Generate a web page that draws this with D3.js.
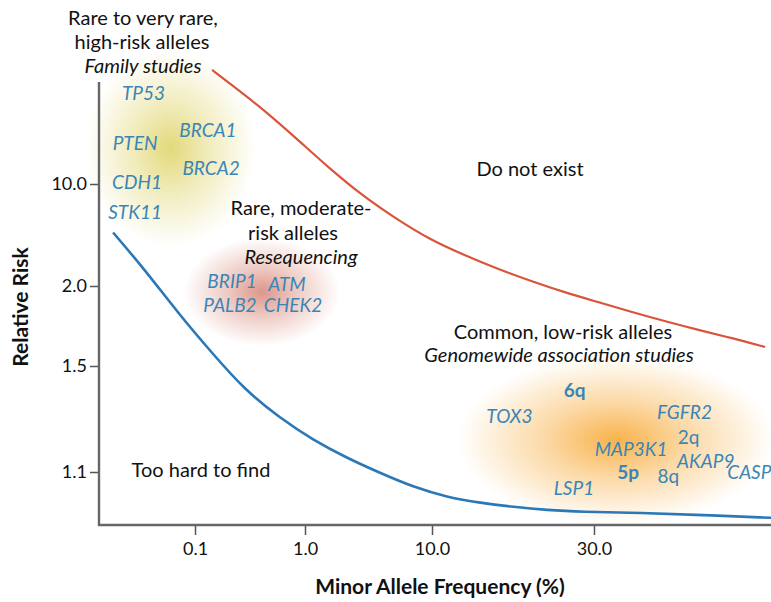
<!DOCTYPE html>
<html>
<head>
<meta charset="utf-8">
<script src="https://cdn.jsdelivr.net/npm/d3@7"></script>
<style>
  html, body { margin: 0; padding: 0; background: #fff; }
  svg { display: block; font-family: Lato, "Open Sans", sans-serif; }
</style>
</head>
<body>
<div id="chart"></div>
<script>
// tick values on both (schematic, log-like) axes
const freqTicks = [0.1, 1.0, 10.0, 30.0];
const riskTicks = [1.1, 1.5, 2.0, 10.0];

// upper boundary (red) - "Do not exist" above it
const upperFreq = [0.143, 0.2215, 0.451, 0.9, 1.573, 2.862, 5.3, 9.64, 12.36, 15.58, 19.5, 24.44, 30.83, 38.6, 48.35, 60.99, 76.4, 95.7];
const upperRisk = [60.5, 46.9, 31.0, 19.5, 12.7, 8.26, 5.72, 4.16, 3.28, 2.62, 2.17, 1.957, 1.888, 1.822, 1.763, 1.707, 1.659, 1.606];

// lower boundary (blue) - "Too hard to find" below it
const lowerFreq = [0.018, 0.0351, 0.0701, 0.1427, 0.2846, 0.5925, 1.156, 2.142, 3.896, 7.087, 11.08, 13.88, 17.38, 21.91, 27.45, 41.33, 62.2, 100];
const lowerRisk = [4.65, 2.58, 1.815, 1.572, 1.398, 1.288, 1.208, 1.146, 1.097, 1.053, 1.022, 1.005, 0.993, 0.984, 0.979, 0.976, 0.970, 0.962];

// genes / loci
const geneNames = ["TP53", "PTEN", "BRCA1", "BRCA2", "CDH1", "STK11",
                   "BRIP1", "ATM", "PALB2", "CHEK2",
                   "6q", "TOX3", "FGFR2", "2q", "MAP3K1", "5p", "AKAP9", "8q", "CASP8", "LSP1"];
const geneFreq  = [0.034, 0.0285, 0.131, 0.14, 0.0297, 0.0285,
                   0.217, 0.686, 0.208, 0.778,
                   26.3, 16.9, 55.4, 57.0, 38.6, 37.8, 64.0, 49.7, 89.3, 26.2];
const geneRisk  = [42.0, 18.9, 23.3, 12.9, 10.3, 6.4,
                   2.17, 2.065, 1.868, 1.868,
                   1.398, 1.296, 1.311, 1.219, 1.177, 1.100, 1.136, 1.087, 1.100, 1.050];

// cluster centres
const clusterNames = ["high", "moderate", "low"];
const clusterFreq  = [0.06, 0.406, 34.8];
const clusterRisk  = [17.5, 1.957, 1.208];

const W = 771, H = 602;

const svg = d3.select("#chart").append("svg")
    .attr("width", W)
    .attr("height", H);

// schematic axes: piecewise log scales through the tick positions
const x = d3.scaleLog().domain(freqTicks).range([195, 305, 432, 594]);
const y = d3.scaleLog().domain(riskTicks).range([472, 366, 286, 184]);

const axisX0 = 99, axisY0 = 525, axisTop = 82;

// cluster blobs
const blobStyle = {
  high:     {color: "#dccf58", rx: 85, ry: 98, op: 0.8},
  moderate: {color: "#d57c6c", rx: 78, ry: 54, op: 0.8},
  low:      {color: "#f7a52c", rx: 158, ry: 84, op: 0.85}
};
const defs = svg.append("defs");
clusterNames.forEach(function(n) {
  const g = defs.append("radialGradient").attr("id", "blob-" + n);
  g.append("stop").attr("offset", "0%").attr("stop-color", blobStyle[n].color).attr("stop-opacity", blobStyle[n].op);
  g.append("stop").attr("offset", "45%").attr("stop-color", blobStyle[n].color).attr("stop-opacity", blobStyle[n].op * 0.5);
  g.append("stop").attr("offset", "100%").attr("stop-color", blobStyle[n].color).attr("stop-opacity", 0);
});

svg.append("g").selectAll("ellipse")
    .data(clusterNames)
    .join("ellipse")
    .attr("cx", function(d, i) { return x(clusterFreq[i]); })
    .attr("cy", function(d, i) { return y(clusterRisk[i]); })
    .attr("rx", function(d) { return blobStyle[d].rx; })
    .attr("ry", function(d) { return blobStyle[d].ry; })
    .attr("fill", function(d) { return "url(#blob-" + d + ")"; });

// boundary curves (smoothed, the source is a hand drawn schematic)
const line = d3.line()
    .curve(d3.curveBasis)
    .x(function(d) { return x(d[0]); })
    .y(function(d) { return y(d[1]); });

svg.append("path")
    .datum(d3.zip(upperFreq, upperRisk))
    .attr("fill", "none")
    .attr("stroke", "#d9543a")
    .attr("stroke-width", 2.2)
    .attr("d", line);

svg.append("path")
    .datum(d3.zip(lowerFreq, lowerRisk))
    .attr("fill", "none")
    .attr("stroke", "#2a78b8")
    .attr("stroke-width", 2.6)
    .attr("d", line);

// axes
const xAxis = svg.append("g")
    .attr("transform", "translate(0," + axisY0 + ")")
    .call(d3.axisBottom(x).tickValues(freqTicks).tickFormat(d3.format(".1f")).tickSize(10).tickPadding(7).tickSizeOuter(0));
const yAxis = svg.append("g")
    .attr("transform", "translate(" + axisX0 + ",0)")
    .call(d3.axisLeft(y).tickValues(riskTicks).tickFormat(d3.format(".1f")).tickSize(9).tickPadding(3).tickSizeOuter(0));

[xAxis, yAxis].forEach(function(a) {
  a.select(".domain").remove();
  a.selectAll(".tick line").attr("stroke", "#555").attr("stroke-width", 1.5);
  a.selectAll(".tick text").attr("fill", "#111").style("font-size", "18px").style("font-family", "Lato, sans-serif");
});

svg.append("line")
    .attr("x1", axisX0).attr("x2", axisX0)
    .attr("y1", axisTop).attr("y2", axisY0 + 1)
    .attr("stroke", "#666").attr("stroke-width", 2.4);
svg.append("line")
    .attr("x1", axisX0 - 1).attr("x2", W)
    .attr("y1", axisY0).attr("y2", axisY0)
    .attr("stroke", "#666").attr("stroke-width", 2.4);

// axis titles
svg.append("text")
    .attr("transform", "translate(28,307) rotate(-90)")
    .attr("text-anchor", "middle")
    .style("font-size", "21px").style("font-weight", 700)
    .attr("fill", "#111")
    .text("Relative Risk");
svg.append("text")
    .attr("x", 440).attr("y", 594)
    .attr("text-anchor", "middle")
    .style("font-size", "21px").style("font-weight", 700)
    .attr("fill", "#111")
    .text("Minor Allele Frequency (%)");

// region annotations
const notes = [
  ["Rare to very rare,", 143, 25, false],
  ["high-risk alleles", 142, 49, false],
  ["Family studies", 143, 73, true],
  ["Rare, moderate-", 301, 215, false],
  ["risk alleles", 293, 240, false],
  ["Resequencing", 301, 264, true],
  ["Do not exist", 530, 176, false],
  ["Common, low-risk alleles", 563, 339, false],
  ["Genomewide association studies", 559, 362, true],
  ["Too hard to find", 201, 477, false]
];
svg.append("g").selectAll("text")
    .data(notes)
    .join("text")
    .attr("x", function(d) { return d[1]; })
    .attr("y", function(d) { return d[2]; })
    .attr("text-anchor", "middle")
    .attr("fill", "#111")
    .style("font-size", "20px")
    .style("font-style", function(d) { return d[3] ? "italic" : "normal"; })
    .text(function(d) { return d[0]; });

// gene labels
const boldLoci = ["6q", "5p"];
const plainLoci = ["2q", "8q"];
svg.append("g").selectAll("text")
    .data(geneNames)
    .join("text")
    .attr("x", function(d, i) { return x(geneFreq[i]); })
    .attr("y", function(d, i) { return y(geneRisk[i]); })
    .attr("dy", "0.36em")
    .attr("text-anchor", "middle")
    .attr("fill", "#3a85b6")
    .style("font-size", "19px")
    .style("font-style", function(d) { return (boldLoci.includes(d) || plainLoci.includes(d)) ? "normal" : "italic"; })
    .style("font-weight", function(d) { return boldLoci.includes(d) ? 700 : 400; })
    .text(function(d) { return d; });
</script>
</body>
</html>
